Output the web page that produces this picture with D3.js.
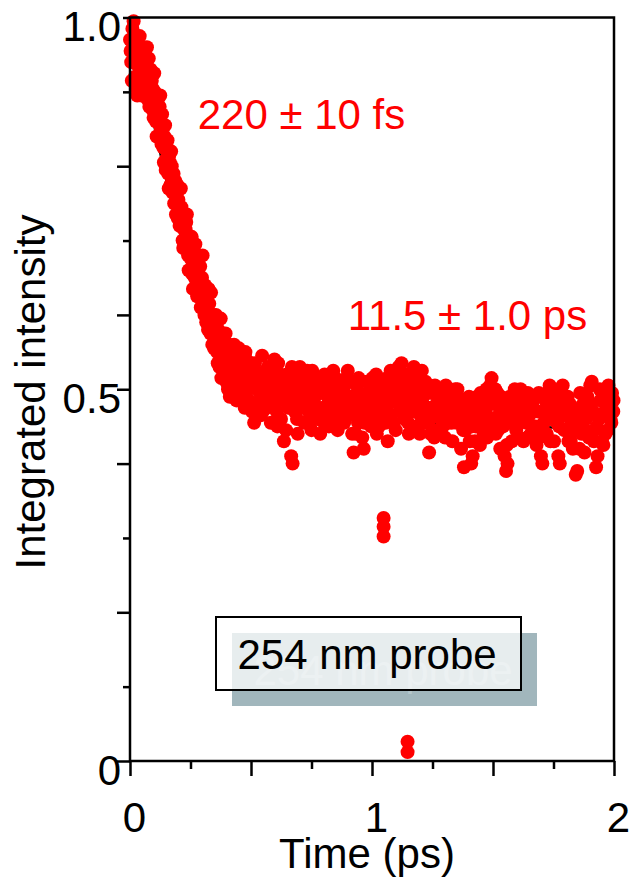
<!DOCTYPE html>
<html>
<head>
<meta charset="utf-8">
<script src="https://cdn.jsdelivr.net/npm/d3@7"></script>
<style>
  html, body { margin: 0; padding: 0; background: #fff; }
  svg { display: block; }
  text { font-family: "Liberation Sans", Arial, Helvetica, sans-serif; }
</style>
</head>
<body>
<svg id="chart" width="632" height="877"></svg>
<script>
// ---------------- data ----------------
const decayPoints = [
  [0.000,.97],[0.005,.94],[0.010,.985],[0.015,.995],[0.020,.92],[0.025,.95],[0.030,.895],[0.035,.955],[0.040,.975],[0.045,.93],
  [0.050,.905],[0.055,.96],[0.060,.935],[0.065,.91],[0.070,.96],[0.075,.915],[0.080,.88],[0.085,.93],[0.090,.915],[0.095,.875],
  [0.100,.925],[0.105,.88],[0.110,.84],[0.115,.89],[0.120,.865],[0.125,.895],[0.130,.83],[0.135,.855],[0.140,.805],[0.145,.855],
  [0.150,.81],[0.155,.835],[0.160,.77],[0.165,.805],[0.170,.82],[0.175,.765],[0.180,.79],[0.185,.765],[0.190,.735],[0.195,.775],
  [0.200,.755],[0.205,.72],[0.210,.77],[0.215,.72],[0.220,.69],[0.225,.735],[0.230,.715],[0.235,.735],[0.240,.68],[0.245,.705],
  [0.250,.66],[0.255,.705],[0.260,.635],[0.265,.675],[0.270,.695],[0.275,.645],[0.280,.665],[0.285,.625],[0.290,.665],[0.295,.64],
  [0.300,.68],[0.305,.61],[0.310,.64],[0.315,.59],[0.320,.605],[0.325,.635],[0.330,.60],[0.335,.63],[0.340,.56],[0.345,.60],
  [0.350,.57],[0.355,.60],[0.360,.55],[0.365,.58],[0.370,.53],[0.375,.595],[0.380,.55],[0.385,.57],[0.390,.525],[0.395,.575],
  [0.400,.545],[0.405,.50],[0.410,.56],[0.415,.52],[0.420,.545],[0.425,.50],[0.430,.56],[0.435,.52],[0.440,.485],[0.445,.535]
];
const decayPoints2 = [
  [0.0025,.955],[0.0075,.915],[0.0125,.965],[0.0175,.94],[0.0225,.975],[0.0275,.905],[0.0325,.935],[0.0375,.92],[0.0425,.955],[0.0475,.895],
  [0.0525,.94],[0.0575,.915],[0.0625,.955],[0.0675,.93],[0.0725,.89],[0.0775,.945],[0.0825,.905],[0.0875,.885],[0.0925,.905],[0.0975,.865],
  [0.1025,.90],[0.1075,.86],[0.1125,.875],[0.1175,.84],[0.1225,.88],[0.1275,.85],[0.1325,.87],[0.1375,.825],[0.1425,.84],[0.1475,.795],
  [0.1525,.825],[0.1575,.79],[0.1625,.815],[0.1675,.775],[0.1725,.80],[0.1775,.78],[0.1825,.75],[0.1875,.78],[0.1925,.755],[0.1975,.73],
  [0.2025,.77],[0.2075,.735],[0.2125,.745],[0.2175,.70],[0.2225,.715],[0.2275,.69],[0.2325,.725],[0.2375,.70],[0.2425,.66],[0.2475,.69],
  [0.2525,.675],[0.2575,.655],[0.2625,.69],[0.2675,.65],[0.2725,.66],[0.2775,.625],[0.2825,.655],[0.2875,.635],[0.2925,.61],[0.2975,.65],
  [0.3025,.625],[0.3075,.60],[0.3125,.62],[0.3175,.61],[0.3225,.58],[0.3275,.615],[0.3325,.575],[0.3375,.595],[0.3425,.58],[0.3475,.555],
  [0.3525,.59],[0.3575,.565],[0.3625,.535],[0.3675,.56],[0.3725,.545],[0.3775,.515],[0.3825,.565],[0.3875,.54],[0.3925,.555],[0.3975,.51],
  [0.4025,.53],[0.4075,.545],[0.4125,.49],[0.4175,.535],[0.4225,.515],[0.4275,.54],[0.4325,.495],[0.4375,.545],[0.4425,.51],[0.4475,.49]
];
const plateauPoints = [
  [0.450,.555],[0.456,.49],[0.462,.53],[0.468,.505],[0.474,.475],[0.480,.54],[0.486,.515],[0.492,.485],[0.498,.525],[0.504,.47],
  [0.510,.51],[0.516,.535],[0.522,.48],[0.528,.50],[0.534,.52],[0.540,.465],[0.546,.545],[0.552,.49],[0.558,.51],[0.564,.475],
  [0.570,.53],[0.576,.50],[0.582,.455],[0.588,.52],[0.594,.485],[0.600,.505],[0.606,.47],[0.612,.535],[0.618,.495],[0.624,.46],
  [0.630,.51],[0.636,.43],[0.642,.49],[0.648,.52],[0.654,.475],[0.660,.50],[0.666,.41],[0.672,.40],[0.678,.485],[0.684,.515],
  [0.690,.46],[0.696,.50],[0.702,.53],[0.708,.475],[0.714,.49],[0.720,.455],[0.726,.51],[0.732,.525],[0.738,.47],[0.744,.495],
  [0.750,.445],[0.756,.505],[0.762,.48],[0.768,.515],[0.774,.46],[0.780,.495],[0.786,.44],[0.792,.50],[0.798,.475],[0.804,.52],
  [0.810,.465],[0.816,.49],[0.822,.45],[0.828,.505],[0.834,.48],[0.840,.525],[0.846,.47],[0.852,.495],[0.858,.445],[0.864,.51],
  [0.870,.485],[0.876,.46],[0.882,.50],[0.888,.475],[0.894,.515],[0.900,.525],[0.906,.465],[0.912,.49],[0.918,.44],[0.924,.415],
  [0.930,.48],[0.936,.505],[0.942,.455],[0.948,.495],[0.954,.47],[0.960,.435],[0.966,.42],[0.972,.485],[0.978,.51],[0.984,.465],
  [0.990,.49],[0.996,.45],[1.002,.515],[1.008,.475],[1.014,.50],[1.020,.44],[1.026,.485],[1.032,.46],[1.038,.505],[1.044,.47],
  [1.050,.495],[1.056,.455],[1.062,.515],[1.068,.48],[1.074,.50],[1.080,.465],[1.086,.52],[1.092,.49],[1.098,.445],[1.104,.51],
  [1.110,.53],[1.116,.475],[1.122,.535],[1.128,.495],[1.134,.46],[1.140,.505],[1.146,.48],[1.152,.44],[1.158,.49],[1.164,.515],
  [1.170,.47],[1.176,.50],[1.182,.45],[1.188,.485],[1.194,.51],[1.200,.465],[1.206,.525],[1.212,.49],[1.218,.455],[1.224,.50],
  [1.230,.475],[1.236,.415],[1.242,.44],[1.248,.495],[1.254,.465],[1.260,.505],[1.266,.48],[1.272,.445],[1.278,.49],[1.284,.46],
  [1.290,.50],[1.296,.475],[1.302,.435],[1.308,.485],[1.314,.455],[1.320,.495],[1.326,.47],[1.332,.43],[1.338,.48],[1.344,.50],
  [1.350,.455],[1.356,.49],[1.362,.465],[1.368,.42],[1.374,.475],[1.380,.395],[1.386,.445],[1.392,.485],[1.398,.46],[1.404,.43],
  [1.410,.40],[1.416,.41],[1.422,.475],[1.428,.45],[1.434,.49],[1.440,.465],[1.446,.425],[1.452,.48],[1.458,.455],[1.464,.495],
  [1.470,.47],[1.476,.435],[1.482,.49],[1.488,.505],[1.494,.515],[1.500,.46],[1.506,.48],[1.512,.44],[1.518,.495],[1.524,.465],
  [1.530,.42],[1.536,.475],[1.542,.45],[1.548,.41],[1.554,.39],[1.560,.40],[1.566,.455],[1.572,.485],[1.578,.43],[1.584,.47],
  [1.590,.50],[1.596,.445],[1.602,.49],[1.608,.46],[1.614,.50],[1.620,.475],[1.626,.43],[1.632,.485],[1.638,.455],[1.644,.495],
  [1.650,.465],[1.656,.44],[1.662,.48],[1.668,.45],[1.674,.49],[1.680,.425],[1.686,.47],[1.692,.435],[1.698,.41],[1.704,.40],
  [1.710,.455],[1.716,.485],[1.722,.44],[1.728,.475],[1.734,.505],[1.740,.46],[1.746,.50],[1.752,.43],[1.758,.48],[1.764,.455],
  [1.770,.41],[1.776,.40],[1.782,.47],[1.788,.505],[1.794,.445],[1.800,.49],[1.806,.465],[1.812,.43],[1.818,.48],[1.824,.455],
  [1.830,.42],[1.836,.445],[1.842,.385],[1.848,.39],[1.854,.465],[1.860,.495],[1.866,.44],[1.872,.48],[1.878,.415],[1.884,.46],
  [1.890,.49],[1.896,.435],[1.902,.505],[1.908,.51],[1.914,.47],[1.920,.445],[1.926,.395],[1.932,.41],[1.938,.46],[1.944,.485],
  [1.950,.43],[1.956,.425],[1.962,.47],[1.968,.495],[1.974,.445],[1.980,.48],[1.986,.46],[1.992,.495],[1.998,.485]
];
const plateauPoints2 = [
  [0.453,.52],[0.465,.485],[0.477,.55],[0.489,.50],[0.501,.535],[0.513,.455],[0.525,.52],[0.537,.495],[0.549,.47],[0.561,.525],
  [0.573,.48],[0.585,.51],[0.597,.54],[0.609,.45],[0.621,.52],[0.633,.485],[0.645,.445],[0.657,.505],[0.669,.53],[0.681,.47],
  [0.693,.44],[0.705,.505],[0.717,.52],[0.729,.48],[0.741,.455],[0.753,.525],[0.765,.49],[0.777,.47],[0.789,.51],[0.801,.455],
  [0.813,.50],[0.825,.485],[0.837,.455],[0.849,.515],[0.861,.48],[0.873,.50],[0.885,.455],[0.897,.49],[0.909,.51],[0.921,.475],
  [0.933,.44],[0.945,.515],[0.957,.49],[0.969,.455],[0.981,.495],[0.993,.47],[1.005,.49],[1.017,.52],[1.029,.45],[1.041,.49],
  [1.053,.47],[1.065,.43],[1.077,.525],[1.089,.455],[1.101,.485],[1.113,.50],[1.125,.47],[1.137,.52],[1.149,.455],[1.161,.475],
  [1.173,.53],[1.185,.495],[1.197,.44],[1.209,.48],[1.221,.51],[1.233,.455],[1.245,.475],[1.257,.435],[1.269,.50],[1.281,.475],
  [1.293,.45],[1.305,.505],[1.317,.48],[1.329,.455],[1.341,.465],[1.353,.50],[1.365,.48],[1.377,.445],[1.389,.47],[1.401,.49],
  [1.413,.45],[1.425,.43],[1.437,.46],[1.449,.495],[1.461,.44],[1.473,.50],[1.485,.45],[1.497,.485],[1.509,.50],[1.521,.445],
  [1.533,.49],[1.545,.465],[1.557,.425],[1.569,.49],[1.581,.455],[1.593,.475],[1.605,.435],[1.617,.48],[1.629,.46],[1.641,.435],
  [1.653,.49],[1.665,.47],[1.677,.45],[1.689,.495],[1.701,.445],[1.713,.47],[1.725,.495],[1.737,.43],[1.749,.465],[1.761,.49],
  [1.773,.45],[1.785,.485],[1.797,.465],[1.809,.49],[1.821,.43],[1.833,.47],[1.845,.455],[1.857,.42],[1.869,.475],[1.881,.445],
  [1.893,.465],[1.905,.48],[1.917,.43],[1.929,.45],[1.941,.50],[1.953,.465],[1.965,.44],[1.977,.505],[1.989,.455],[1.997,.47]
];
const outlierPoints = [[1.048,.327],[1.048,.315],[1.048,.302],[1.147,.026],[1.147,.012]];

const fitTimes  = [0.00,0.03,0.06,0.083,0.11,0.137,0.17,0.20,0.25,0.30,0.35,0.40,0.50,0.60,0.70,0.80,0.90,1.00,1.10,1.30,1.50,1.70,2.00];
const fitValues = [1.00,0.95,0.91,0.88,0.84,0.80,0.755,0.72,0.668,0.625,0.592,0.564,0.527,0.50,0.484,0.472,0.465,0.46,0.456,0.453,0.451,0.449,0.447];

const xMajorTicks = [0, 0.5, 1, 1.5, 2];
const xMinorTicks = [0.25, 0.75, 1.25, 1.75];
const xLabelTicks = [0, 1, 2];
const yLongTicks  = [0, 0.2, 0.4, 0.5, 0.6, 0.8];
const yShortTicks = [0.1, 0.3, 0.7, 0.9, 1.0];
const yLabelTicks = [0, 0.5, 1.0];
const yLabelText  = ["0", "0.5", "1.0"];

const fitLabels = [
  {text: "220 \u00b1 10 fs", t: 0.28, v: 0.85},
  {text: "11.5 \u00b1 1.0 ps", t: 0.90, v: 0.58}
];
const boxText = "254 nm probe";
const xTitle = "Time (ps)";
const yTitle = "Integrated intensity";

// ---------------- layout ----------------
const L = 130, R = 614, T = 17.5, B = 761;
const FS = 42;
const svg = d3.select("#chart");

const x = d3.scaleLinear().domain([0, 2]).range([L, R]);
const y = d3.scaleLinear().domain([0, 1]).range([B, T]);

// fit curve
const fit = fitTimes.map((t, i) => [t, fitValues[i]]);
svg.append("path")
  .datum(fit)
  .attr("fill", "none")
  .attr("stroke", "#000")
  .attr("stroke-width", 2.5)
  .attr("d", d3.line().x(d => x(d[0])).y(d => y(d[1])).curve(d3.curveMonotoneX));

// data points
const allPoints = decayPoints.concat(decayPoints2, plateauPoints, plateauPoints2, outlierPoints);
svg.append("g").selectAll("circle")
  .data(allPoints)
  .join("circle")
  .attr("cx", d => x(d[0]))
  .attr("cy", d => y(d[1]))
  .attr("r", 7)
  .attr("fill", "#ff0000");

// axes
function styleAxis(g) {
  g.select(".domain").remove();
  g.selectAll(".tick line").attr("stroke", "#000").attr("stroke-width", 2.5);
  g.selectAll("text").attr("fill", "#000").attr("font-size", FS)
    .attr("font-family", '"Liberation Sans", Arial, sans-serif');
}
svg.append("g").attr("transform", `translate(0,${B})`)
  .call(d3.axisBottom(x).tickValues(xMajorTicks).tickSize(15).tickFormat(""))
  .call(styleAxis);
svg.append("g").attr("transform", `translate(0,${B})`)
  .call(d3.axisBottom(x).tickValues(xMinorTicks).tickSize(8).tickFormat(""))
  .call(styleAxis);
const xl = svg.append("g").attr("transform", `translate(0,${B})`)
  .call(d3.axisBottom(x).tickValues(xLabelTicks).tickSize(0).tickFormat(d3.format("d")))
  .call(styleAxis);
xl.selectAll(".tick line").remove();
xl.selectAll("text").attr("y", 71).attr("dy", 0).attr("dx", 4);

svg.append("g").attr("transform", `translate(${L},0)`)
  .call(d3.axisLeft(y).tickValues(yLongTicks).tickSize(13).tickFormat(""))
  .call(styleAxis);
svg.append("g").attr("transform", `translate(${L},0)`)
  .call(d3.axisLeft(y).tickValues(yShortTicks).tickSize(7).tickFormat(""))
  .call(styleAxis);
const yl = svg.append("g").attr("transform", `translate(${L},0)`)
  .call(d3.axisLeft(y).tickValues(yLabelTicks).tickSize(0).tickPadding(9)
    .tickFormat((d, i) => yLabelText[i]))
  .call(styleAxis);
yl.selectAll(".tick line").remove();
yl.selectAll("text").attr("dy", 23);

// frame
svg.append("rect")
  .attr("x", L).attr("y", T).attr("width", R - L).attr("height", B - T)
  .attr("fill", "none").attr("stroke", "#000").attr("stroke-width", 2.5);

// annotations
svg.append("g").selectAll("text")
  .data(fitLabels)
  .join("text")
  .attr("x", d => x(d.t)).attr("y", d => y(d.v))
  .attr("font-size", FS).attr("fill", "#ff0000")
  .text(d => d.text);

// box with shadow
const bx = 216, by = 617, bw = 305, bh = 73, off = 16;
svg.append("rect").attr("x", bx + off).attr("y", by + off).attr("width", bw).attr("height", bh)
  .attr("fill", "#a1b6bc");
svg.append("text").attr("x", 237.5 + off).attr("y", 669 + off)
  .attr("font-size", FS).attr("fill", "#b4c6cb").text(boxText);
svg.append("rect").attr("x", bx).attr("y", by).attr("width", bw).attr("height", bh)
  .attr("fill", "#fff").attr("fill-opacity", 0.75)
  .attr("stroke", "#000").attr("stroke-width", 2);
svg.append("text").attr("x", 237.5).attr("y", 669)
  .attr("font-size", FS).attr("fill", "#000").text(boxText);

// axis titles
svg.append("text")
  .attr("x", 367).attr("y", 868)
  .attr("text-anchor", "middle").attr("font-size", FS).attr("fill", "#000")
  .text(xTitle);
svg.append("text")
  .attr("transform", "translate(45,392) rotate(-90)")
  .attr("text-anchor", "middle").attr("font-size", FS).attr("fill", "#000")
  .text(yTitle);
</script>
</body>
</html>
